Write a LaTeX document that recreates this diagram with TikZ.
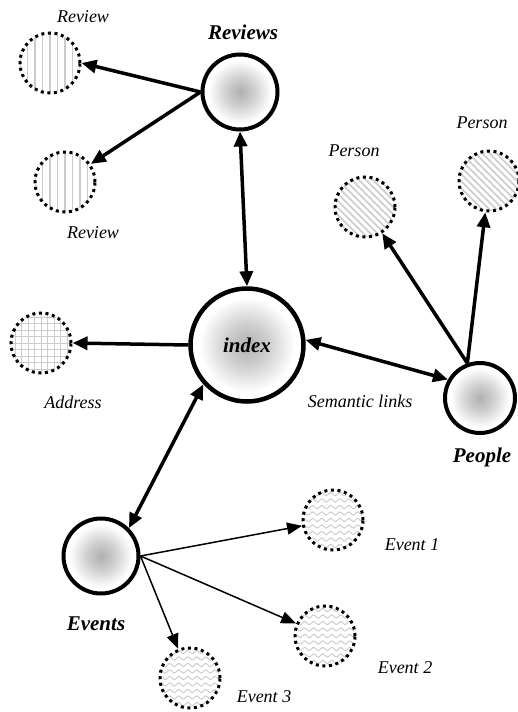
\documentclass[tikz,border=0pt]{standalone}
\usepackage{fontspec}
\setmainfont{Liberation Serif}
\usepackage{tikz}
\usetikzlibrary{arrows.meta,shadings}

\pgfdeclareradialshading{hubshade}{\pgfpointorigin}{color(0bp)=(gray!62); color(10bp)=(gray!36); color(21bp)=(white); color(50bp)=(white)}

\begin{document}
\begin{tikzpicture}[
    x=1pt, y=-1pt,
    >={Triangle[length=15pt,width=13pt]},
    hub/.style={
        circle,
        draw=black,
        line width=4pt,
        shading=hubshade,
        minimum size=75pt,
        inner sep=0pt,
        font=\fontsize{21}{24}\selectfont\bfseries\itshape
    },
    leaf/.style={
        circle,
        draw=black,
        line width=3pt,
        dash pattern=on 3pt off 3.6pt,
        minimum size=60pt,
        inner sep=0pt,
        fill=white
    },
    hatch/.style={draw=gray!40, line width=1.3pt, solid},
    vleaf/.style={leaf, path picture={
        \foreach \i in {-4,...,4}
            \draw[hatch, shift={(path picture bounding box.center)}] (\i*7.5,-40) -- (\i*7.5,40);
    }},
    dleaf/.style={leaf, path picture={
        \foreach \i in {-16,...,16}
            \draw[hatch, line width=1.5pt, shift={(path picture bounding box.center)}] (\i*7-40,-40) -- (\i*7+40,40);
    }},
    gleaf/.style={leaf, path picture={
        \foreach \i in {-5,...,5}{
            \draw[hatch, line width=1pt, shift={(path picture bounding box.center)}] (\i*6.5,-40) -- (\i*6.5,40);
            \draw[hatch, line width=1pt, shift={(path picture bounding box.center)}] (-40,\i*6.5) -- (40,\i*6.5);
        }
    }},
    wleaf/.style={leaf, path picture={
        \foreach \i in {-5,...,5}
            \draw[hatch, line width=1pt, shift={(path picture bounding box.center)}]
                plot[domain=-36:36, samples=97, smooth] (\x, {\i*6.5+1.5*sin(\x*40)});
    }},
    lbl/.style={
        inner sep=0pt,
        font=\fontsize{18}{20}\selectfont\itshape
    },
    hublbl/.style={
        inner sep=0pt,
        font=\fontsize{21}{24}\selectfont\bfseries\itshape
    },
    arr/.style={->, line width=3.5pt},
    twoarr/.style={<->, line width=3.5pt},
    thinarr/.style={-{Triangle[length=15pt,width=12pt]}, line width=1.5pt}
]
\useasboundingbox (0,0) rectangle (517,712);

% hubs
\node[hub, minimum size=113pt, line width=4.5pt] (index) at (247,345) {index};
\node[hub] (reviews) at (240,92) {};
\node[hub, minimum size=70pt] (people) at (480,398) {};
\node[hub] (events) at (101,556) {};

% leaves
\node[vleaf] (review1) at (50,63) {};
\node[vleaf] (review2) at (65,182) {};
\node[gleaf] (address) at (41,343) {};
\node[dleaf] (person1) at (365,207) {};
\node[dleaf] (person2) at (489,181) {};
\node[wleaf] (event1) at (333,520) {};
\node[wleaf] (event2) at (325,636) {};
\node[wleaf] (event3) at (190,678) {};

% labels
\node[hublbl] (reviewslbl) at (243,32) {Reviews};
\node[hublbl] (peoplelbl) at (482,457) {People};
\node[hublbl] (eventslbl) at (96,624) {Events};
\node[lbl] (review1lbl) at (83,17) {Review};
\node[lbl] (review2lbl) at (93,233) {Review};
\node[lbl] (addresslbl) at (73,402) {Address};
\node[lbl] (person1lbl) at (354,151) {Person};
\node[lbl] (person2lbl) at (482,123) {Person};
\node[lbl] (semlbl) at (360,401) {Semantic links};
\node[lbl] (event1lbl) at (412,545) {Event 1};
\node[lbl] (event2lbl) at (405,668) {Event 2};
\node[lbl] (event3lbl) at (264,697) {Event 3};

% links
\draw[twoarr] (reviews.south) -- (index.north);
\draw[twoarr] (index.5) -- (people.150);
\draw[twoarr] (index.222) -- (events.45);
\draw[arr] (index.west) -- (address.east);
\draw[arr] (reviews.west) -- (review1.east);
\draw[arr] (reviews.west) -- (review2.35);
\draw[arr] (people.110) -- (person1);
\draw[arr] (people.110) -- (person2);
\draw[thinarr] (events.east) -- (event1);
\draw[thinarr] (events.east) -- (event2);
\draw[thinarr] (events.east) -- (event3);

\end{tikzpicture}
\end{document}
